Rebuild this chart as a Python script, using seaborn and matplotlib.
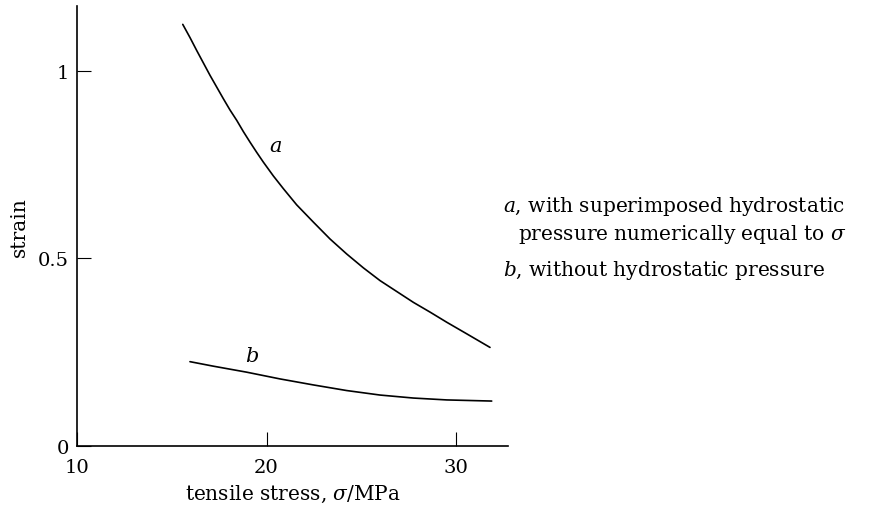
import matplotlib
matplotlib.use("Agg")
import matplotlib.pyplot as plt
import seaborn as sns
import pandas as pd

# ---- data ----
stress_a = [15.58, 15.96, 16.32, 16.67, 17.02, 17.37, 17.72, 18.07, 18.43, 18.78, 19.13, 19.48,
            19.83, 20.36, 20.89, 21.59, 22.47, 23.35, 24.23, 25.11, 25.99, 26.87, 27.75, 28.63,
            29.51, 30.57, 31.79]
strain_a = [1.123, 1.088, 1.053, 1.020, 0.987, 0.956, 0.925, 0.895, 0.867, 0.837, 0.809, 0.782,
            0.756, 0.719, 0.685, 0.642, 0.596, 0.551, 0.511, 0.474, 0.440, 0.411, 0.382, 0.356,
            0.329, 0.298, 0.262]
stress_b = [15.96, 17.19, 18.95, 20.71, 22.47, 24.23, 25.99, 27.75, 29.51, 31.88]
strain_b = [0.224, 0.212, 0.196, 0.178, 0.162, 0.147, 0.135, 0.127, 0.122, 0.119]
x_ticks = [10, 20, 30]
y_ticks = [0, 0.5, 1]
y_tick_labels = ["0", "0.5", "1"]
curve_labels = ["a", "b"]
legend_lines = [r"$a$, with superimposed hydrostatic",
                r"pressure numerically equal to $\sigma$",
                r"$b$, without hydrostatic pressure"]

sns.set_theme(style="ticks")
plt.rcParams["font.family"] = ["DejaVu Serif"]
plt.rcParams["mathtext.fontset"] = "dejavuserif"
plt.rcParams["text.color"] = "black"
plt.rcParams["axes.labelcolor"] = "black"

W, H = 876, 510
fig = plt.figure(figsize=(W / 100, H / 100), dpi=100)
x0, x1, ytop, ybot = 77, 508, 7, 446.7
ax = fig.add_axes([x0 / W, 1 - ybot / H, (x1 - x0) / W, (ybot - ytop) / H])

df = pd.concat([
    pd.DataFrame({"stress": stress_a, "strain": strain_a, "curve": "a"}),
    pd.DataFrame({"stress": stress_b, "strain": strain_b, "curve": "b"}),
])
sns.lineplot(data=df, x="stress", y="strain", units="curve", estimator=None,
             color="black", lw=1.2, sort=False, ax=ax, legend=False)

ax.set_xlim(10, 32.74)
ax.set_ylim(0, 1.172)
ax.set_xticks(x_ticks)
ax.set_xticklabels([str(t) for t in x_ticks])
ax.set_yticks(y_ticks)
ax.set_yticklabels(y_tick_labels)
ax.tick_params(direction="in", length=10, width=0.8, color="black",
               labelsize=14, labelcolor="black")
ax.tick_params(axis="x", pad=9)
ax.tick_params(axis="y", pad=6)
for s in ["top", "right"]:
    ax.spines[s].set_visible(False)
for s in ["left", "bottom"]:
    ax.spines[s].set_color("black")
    ax.spines[s].set_linewidth(1.2)

ax.set_xlabel(r"tensile stress, $\sigma$/MPa", fontsize=14.5, color="black", labelpad=5)
ax.set_ylabel("strain", fontsize=14.5, color="black", labelpad=6)

ax.text(20.5, 0.80, curve_labels[0], fontsize=15, style="italic", ha="center", va="center")
ax.text(19.22, 0.240, curve_labels[1], fontsize=15, style="italic", ha="center", va="center")

fig.text(503 / W, 1 - 207 / H, legend_lines[0], fontsize=14.5, ha="left", va="center")
fig.text(518 / W, 1 - 235 / H, legend_lines[1], fontsize=14.5, ha="left", va="center")
fig.text(503 / W, 1 - 271 / H, legend_lines[2], fontsize=14.5, ha="left", va="center")

fig.savefig("out.png", dpi=100, facecolor="white")
